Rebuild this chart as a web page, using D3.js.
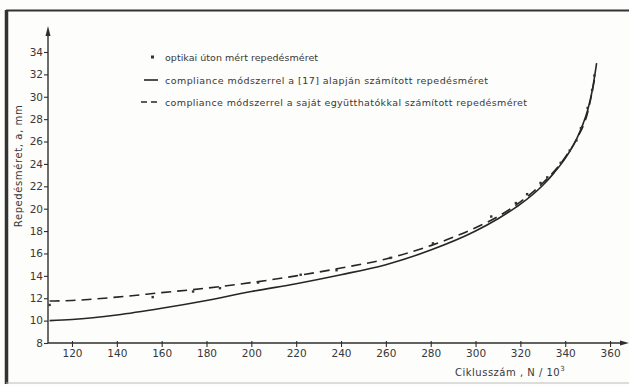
<!DOCTYPE html>
<html>
<head>
<meta charset="utf-8">
<script src="https://cdn.jsdelivr.net/npm/d3@7"></script>
<style>
  body { margin: 0; background: #fdfdfb; }
  svg { display: block; }
  text { font-family: "DejaVu Sans", sans-serif; fill: #383838; }
</style>
</head>
<body>
<div id="chart"></div>
<script>
// data (N in 10^3 cycles, a in mm)
var xTicks = [120, 140, 160, 180, 200, 220, 240, 260, 280, 300, 320, 340, 360];
var yTicks = [8, 10, 12, 14, 16, 18, 20, 22, 24, 26, 28, 30, 32, 34];

var solidN = [110, 120, 140, 160, 180, 200, 220, 240, 260, 280, 300, 310, 320, 330, 335, 340, 345, 348, 350, 352, 354];
var solidA = [10.0, 10.1, 10.5, 11.1, 11.8, 12.6, 13.3, 14.1, 15.0, 16.3, 18.0, 19.1, 20.4, 22.1, 23.2, 24.5, 26.2, 27.6, 28.8, 30.5, 33.0];

var dashN = [110, 120, 140, 160, 180, 200, 220, 240, 260, 280, 300, 310, 320, 330, 340, 345, 350, 353];
var dashA = [11.75, 11.8, 12.1, 12.5, 12.9, 13.4, 14.0, 14.7, 15.5, 16.7, 18.3, 19.3, 20.6, 22.3, 24.6, 26.2, 28.6, 31.5];

var optN = [110, 156, 174, 186, 203, 222, 238, 262, 281, 307, 318, 323, 329, 332, 338, 342, 345, 347, 350, 352, 353];
var optA = [11.4, 12.1, 12.6, 12.9, 13.4, 14.1, 14.5, 15.6, 16.9, 19.3, 20.5, 21.3, 22.3, 22.8, 24.1, 25.2, 26.1, 27.2, 29.0, 30.6, 31.9];

var legendLabels = [
  "optikai úton mért repedésméret",
  "compliance módszerrel a [17] alapján számított repedésméret",
  "compliance módszerrel a saját együtthatókkal számított repedésméret"
];

var W = 629, H = 386;
var ink = "#2e2e2e";

var svg = d3.select("#chart").append("svg")
  .attr("width", W).attr("height", H);

// scanned frame
svg.append("rect").attr("x", 0).attr("y", 0).attr("width", W).attr("height", H).attr("fill", "#fdfdfb");
svg.append("line").attr("x1", 6).attr("x2", W).attr("y1", 10.5).attr("y2", 10.5)
  .attr("stroke", "#333").attr("stroke-width", 2.2);
svg.append("line").attr("x1", 6.5).attr("x2", 6.5).attr("y1", 10).attr("y2", 384)
  .attr("stroke", "#333").attr("stroke-width", 3.5);
svg.append("line").attr("x1", 6).attr("x2", W).attr("y1", 383).attr("y2", 383)
  .attr("stroke", "#bbb").attr("stroke-width", 1);

var x = d3.scaleLinear().domain([109.3, 368]).range([48, 628]);
var y = d3.scaleLinear().domain([8, 34]).range([343, 52]);

// y axis
var yAxis = svg.append("g").attr("transform", "translate(48,0)")
  .call(d3.axisLeft(y).tickValues(yTicks).tickSize(4).tickSizeOuter(0));
yAxis.select(".domain").remove();
yAxis.selectAll(".tick line").attr("stroke", ink).attr("stroke-width", 1.1);
yAxis.selectAll(".tick text").attr("font-size", 10.5).attr("x", -5).attr("fill", "#383838")
  .style("font-family", "DejaVu Sans");
svg.append("line").attr("x1", 48).attr("x2", 48).attr("y1", y(8)).attr("y2", 30)
  .attr("stroke", ink).attr("stroke-width", 1.4);
svg.append("path").attr("d", "M48,26 L45.5,36 L50.5,36 Z").attr("fill", ink);

// x axis
var xAxis = svg.append("g").attr("transform", "translate(0," + y(8) + ")")
  .call(d3.axisBottom(x).tickValues(xTicks).tickSize(4).tickSizeOuter(0));
xAxis.select(".domain").remove();
xAxis.selectAll(".tick line").attr("stroke", ink).attr("stroke-width", 1.1).attr("y1", -2);
xAxis.selectAll(".tick text").attr("font-size", 10.5).attr("y", 7).attr("fill", "#383838")
  .style("font-family", "DejaVu Sans");
svg.append("line").attr("x1", 48).attr("x2", 624).attr("y1", y(8)).attr("y2", y(8))
  .attr("stroke", ink).attr("stroke-width", 1.4);
svg.append("path").attr("d", "M629,343 L620,340.5 L620,345.5 Z").attr("fill", ink);

// axis titles
svg.append("text")
  .attr("transform", "translate(22,166) rotate(-90)")
  .attr("text-anchor", "middle").attr("font-size", 10)
  .attr("letter-spacing", 0.6)
  .text("Repedésméret,  a,  mm");

var xt = svg.append("text").attr("x", 455).attr("y", 376).attr("font-size", 10)
  .attr("letter-spacing", 0.5);
xt.append("tspan").text("Ciklusszám ,  N / 10");
xt.append("tspan").attr("dy", -5).attr("font-size", 7).text("3");

// curves
var line = d3.line().x(function(d){ return x(d[0]); }).y(function(d){ return y(d[1]); })
  .curve(d3.curveMonotoneX);

svg.append("path").datum(d3.zip(solidN, solidA))
  .attr("d", line).attr("fill", "none").attr("stroke", "#262626").attr("stroke-width", 1.6);

svg.append("path").datum(d3.zip(dashN, dashA))
  .attr("d", line).attr("fill", "none").attr("stroke", "#262626").attr("stroke-width", 1.6)
  .attr("stroke-dasharray", "10,6");

svg.append("g").selectAll("rect").data(d3.zip(optN, optA)).enter()
  .append("rect")
  .attr("x", function(d){ return x(d[0]) - 1.2; })
  .attr("y", function(d){ return y(d[1]) - 1.2; })
  .attr("width", 2.4).attr("height", 2.4)
  .attr("fill", "#333");

// legend
var lg = svg.append("g");
var legendY = [57, 80, 102];
var legendLen = [153, 323, 362];
lg.append("rect").attr("x", 151).attr("y", legendY[0] - 1.5).attr("width", 3).attr("height", 3).attr("fill", "#333");
lg.append("line").attr("x1", 144).attr("x2", 158).attr("y1", legendY[1]).attr("y2", legendY[1])
  .attr("stroke", "#262626").attr("stroke-width", 1.6);
lg.append("line").attr("x1", 141).attr("x2", 159).attr("y1", legendY[2]).attr("y2", legendY[2])
  .attr("stroke", "#262626").attr("stroke-width", 1.6).attr("stroke-dasharray", "6,4");
legendLabels.forEach(function(t, i){
  lg.append("text").attr("x", 165).attr("y", legendY[i] + 3.5)
    .attr("font-size", 9.5)
    .attr("textLength", legendLen[i]).attr("lengthAdjust", "spacing")
    .text(t);
});
</script>
</body>
</html>
